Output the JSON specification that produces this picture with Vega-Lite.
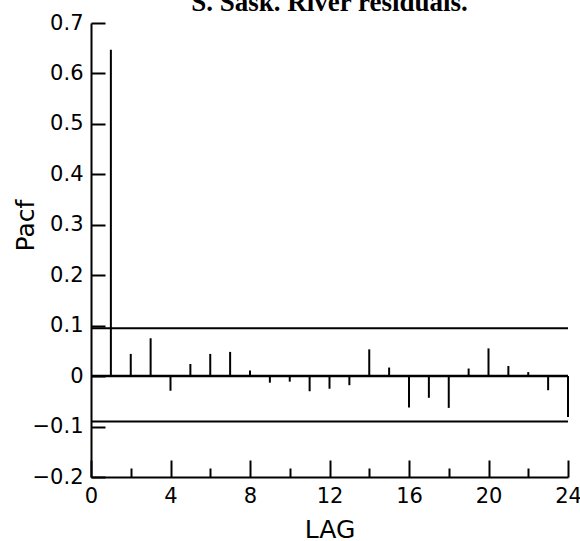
{
  "$schema": "https://vega.github.io/schema/vega-lite/v6.json",
  "width": 477,
  "height": 454,
  "autosize": {"type": "none"},
  "padding": {"left": 91, "top": 23, "right": 12, "bottom": 64},
  "background": "white",
  "title": {
    "text": "S. Sask. River residuals.",
    "font": "Liberation Serif",
    "fontSize": 27,
    "fontWeight": "bold",
    "baseline": "alphabetic",
    "offset": 0,
    "dy": 26,
    "anchor": "middle",
    "color": "black"
  },
  "config": {
    "view": {"stroke": null},
    "axis": {
      "grid": false,
      "domainColor": "black",
      "domainWidth": 2,
      "tickColor": "black",
      "tickWidth": 2,
      "labelColor": "black",
      "titleColor": "black",
      "labelFont": "DejaVu Sans",
      "titleFont": "DejaVu Sans",
      "titleFontWeight": "normal",
      "labelFontSize": 21,
      "titleFontSize": 25
    }
  },
  "datasets": {
    "pacf": [
      {"lag": 1, "pacf": 0.647},
      {"lag": 2, "pacf": 0.044},
      {"lag": 3, "pacf": 0.075},
      {"lag": 4, "pacf": -0.029},
      {"lag": 5, "pacf": 0.024},
      {"lag": 6, "pacf": 0.044},
      {"lag": 7, "pacf": 0.048},
      {"lag": 8, "pacf": 0.011},
      {"lag": 9, "pacf": -0.013},
      {"lag": 10, "pacf": -0.011},
      {"lag": 11, "pacf": -0.03},
      {"lag": 12, "pacf": -0.025},
      {"lag": 13, "pacf": -0.018},
      {"lag": 14, "pacf": 0.053},
      {"lag": 15, "pacf": 0.017},
      {"lag": 16, "pacf": -0.062},
      {"lag": 17, "pacf": -0.043},
      {"lag": 18, "pacf": -0.063},
      {"lag": 19, "pacf": 0.015},
      {"lag": 20, "pacf": 0.055},
      {"lag": 21, "pacf": 0.02},
      {"lag": 22, "pacf": 0.008},
      {"lag": 23, "pacf": -0.028},
      {"lag": 24, "pacf": -0.081}
    ],
    "bounds": [
      {"bound": 0.095},
      {"bound": -0.09}
    ]
  },
  "resolve": {"axis": {"x": "independent"}},
  "layer": [
    {
      "data": {"name": "pacf"},
      "mark": {"type": "rule", "color": "black", "strokeWidth": 2},
      "encoding": {
        "x": {
          "field": "lag",
          "type": "quantitative",
          "scale": {"domain": [0, 24], "nice": false, "zero": false},
          "axis": {
            "orient": "bottom",
            "values": [0, 4, 8, 12, 16, 20, 24],
            "tickSize": -17,
            "labelPadding": 25,
            "labelFlush": false,
            "title": "LAG",
            "titleY": 60,
            "titleBaseline": "alphabetic"
          }
        },
        "y": {
          "field": "pacf",
          "type": "quantitative",
          "scale": {"domain": [-0.2, 0.7], "nice": false, "zero": false},
          "axis": {
            "values": [-0.2, -0.1, 0, 0.1, 0.2, 0.3, 0.4, 0.5, 0.6, 0.7],
            "format": ".1~f",
            "tickSize": -14,
            "labelPadding": 22,
            "title": "Pacf",
            "titleX": -58,
            "titleY": 202,
            "titleAngle": -90,
            "titleAlign": "center",
            "titleBaseline": "alphabetic"
          }
        },
        "y2": {"datum": 0}
      }
    },
    {
      "data": {"name": "bounds"},
      "mark": {"type": "rule", "color": "black", "strokeWidth": 2},
      "encoding": {
        "y": {"field": "bound", "type": "quantitative"}
      }
    },
    {
      "data": {"values": [{}]},
      "mark": {"type": "rule", "color": "black", "strokeWidth": 2.5},
      "encoding": {
        "x": {
          "datum": 0,
          "type": "quantitative",
          "axis": {
            "orient": "bottom",
            "values": [2, 6, 10, 14, 18, 22],
            "tickSize": -9,
            "labels": false,
            "domain": false,
            "title": null
          }
        },
        "x2": {"datum": 24},
        "y": {"datum": 0}
      }
    }
  ]
}
